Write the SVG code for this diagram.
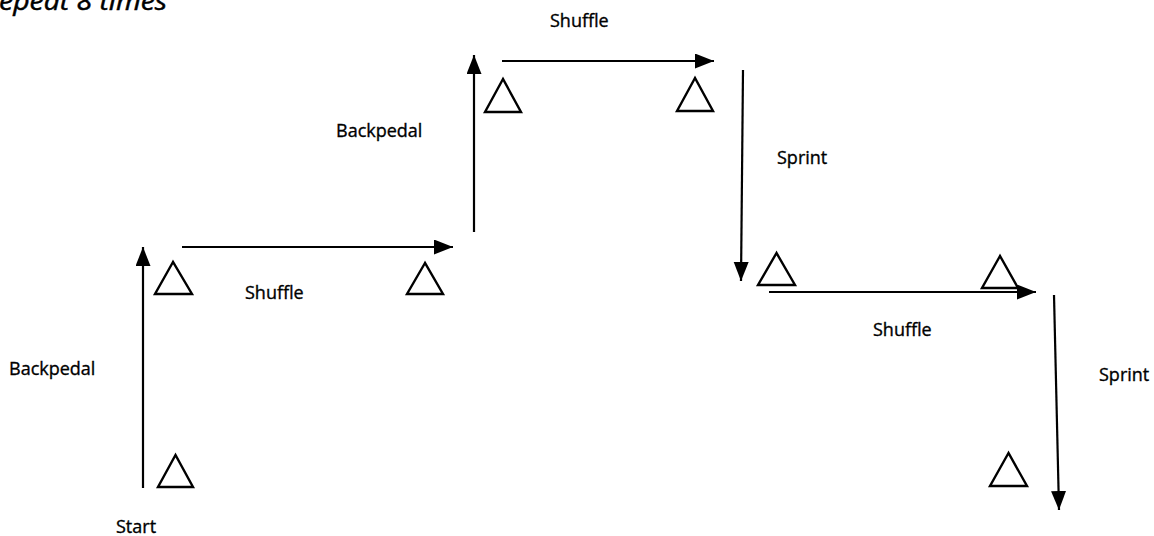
<svg xmlns="http://www.w3.org/2000/svg" width="1154" height="536" viewBox="0 0 1154 536">
  <style>
    .lbl { font-family: "Open Sans", "Liberation Sans", sans-serif; font-size: 18px; fill: #000; stroke: #000; stroke-width: 0.35; }
    .title { font-family: "Open Sans", "Liberation Sans", sans-serif; font-size: 26px; font-style: italic; fill: #000; stroke: #000; stroke-width: 0.5; }
    .cone { fill: none; stroke: #000; stroke-width: 2.4; stroke-linejoin: miter; }
    .conn { stroke: #000; stroke-width: 2.2; fill: none; marker-end: url(#arrow); }
  </style>
  <defs>
    <marker id="arrow" markerUnits="userSpaceOnUse" markerWidth="22" markerHeight="16" refX="19" refY="7.5" orient="auto">
      <path d="M0,0 L19,7.5 L0,15 Z" fill="#000"/>
    </marker>
  </defs>
  <rect width="1154" height="536" fill="#fff"/>

  <text class="title" x="-1" y="10" textLength="168" lengthAdjust="spacingAndGlyphs">epeat 8 times</text>

  <g id="connectors">
    <line class="conn" x1="143" y1="488" x2="143" y2="247"/>
    <line class="conn" x1="182" y1="247" x2="453" y2="247"/>
    <line class="conn" x1="474" y1="232" x2="474" y2="55"/>
    <line class="conn" x1="502" y1="61" x2="714" y2="61"/>
    <line class="conn" x1="743" y1="70" x2="741" y2="281"/>
    <line class="conn" x1="769" y1="292" x2="1036" y2="292"/>
    <line class="conn" x1="1054" y1="295" x2="1059" y2="510"/>
  </g>

  <g id="cone-start"><polygon class="cone" points="175.5,455 158,487 193,487"/></g>
  <g id="cone-2"><polygon class="cone" points="173,262 155,294 192,294"/></g>
  <g id="cone-3"><polygon class="cone" points="425,263 407,294 443,294"/></g>
  <g id="cone-4"><polygon class="cone" points="503,79 485,112 521,112"/></g>
  <g id="cone-5"><polygon class="cone" points="695,78 677,111 713,111"/></g>
  <g id="cone-6"><polygon class="cone" points="776.5,253 758,285 795,285"/></g>
  <g id="cone-7"><polygon class="cone" points="1000,256 982,288 1018,288"/></g>
  <g id="cone-8"><polygon class="cone" points="1008.5,453 990,486 1027,486"/></g>

  <g id="labels">
    <text class="lbl" x="9" y="375">Backpedal</text>
    <text class="lbl" x="116" y="533">Start</text>
    <text class="lbl" x="245" y="299">Shuffle</text>
    <text class="lbl" x="336" y="137">Backpedal</text>
    <text class="lbl" x="550" y="27">Shuffle</text>
    <text class="lbl" x="777" y="164">Sprint</text>
    <text class="lbl" x="873" y="336">Shuffle</text>
    <text class="lbl" x="1099" y="381">Sprint</text>
  </g>
</svg>
